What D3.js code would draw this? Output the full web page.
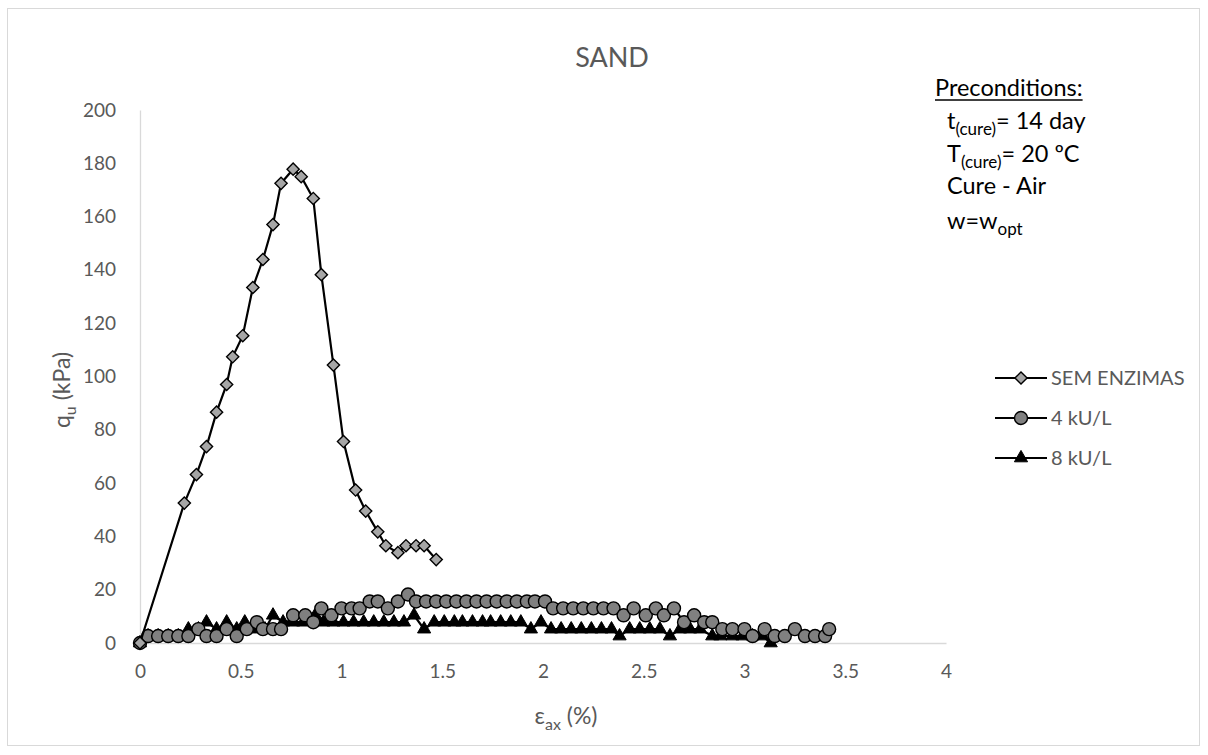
<!DOCTYPE html>
<html>
<head>
<meta charset="utf-8">
<script src="https://cdn.jsdelivr.net/npm/d3@7"></script>
<style>
body { margin: 0; background: #fff; }
text { font-family: Lato, "Open Sans", sans-serif; }
</style>
</head>
<body>
<svg id="chart"></svg>
<script>
const width = 1208;
const height = 755;

// strain (%) and qu (kPa)
const semX = [0,0.22,0.28,0.33,0.38,0.43,0.46,0.51,0.56,0.61,0.66,0.70,0.76,0.80,0.86,0.90,0.96,1.01,1.07,1.12,1.18,1.22,1.28,1.32,1.37,1.41,1.47];
const semY = [0,52.5,63.2,73.7,86.6,97,107.4,115.3,133.4,143.9,157,172.5,177.8,175,166.8,138.2,104.3,75.6,57.4,49.5,41.7,36.5,33.9,36.5,36.5,36.5,31.3];

const k4X = [0,0.04,0.09,0.14,0.19,0.24,0.29,0.33,0.38,0.43,0.48,0.53,0.58,0.61,0.66,0.70,0.76,0.82,0.86,0.90,0.95,1.0,1.05,1.09,1.14,1.18,1.23,1.28,1.33,1.37,1.42,1.47,1.52,1.57,1.62,1.67,1.72,1.77,1.82,1.87,1.92,1.96,2.01,2.05,2.10,2.15,2.20,2.25,2.30,2.35,2.40,2.45,2.51,2.56,2.60,2.65,2.70,2.75,2.80,2.84,2.89,2.94,3.0,3.04,3.10,3.15,3.20,3.25,3.30,3.35,3.40,3.42];
const k4Y = [0,2.6,2.6,2.6,2.6,2.6,5.2,2.6,2.6,5.2,2.6,5.2,7.8,5.2,5.2,5.2,10.4,10.4,7.8,13,10.4,13,13,13,15.6,15.6,13,15.6,18.2,15.6,15.6,15.6,15.6,15.6,15.6,15.6,15.6,15.6,15.6,15.6,15.6,15.6,15.6,13,13,13,13,13,13,13,10.4,13,10.4,13,10.4,13,7.8,10.4,7.8,7.8,5.2,5.2,5.2,2.6,5.2,2.6,2.6,5.2,2.6,2.6,2.6,5.2];

const k8X = [0,0.04,0.09,0.14,0.19,0.24,0.29,0.33,0.38,0.43,0.48,0.52,0.57,0.62,0.66,0.71,0.76,0.81,0.87,0.91,0.96,1.01,1.06,1.11,1.16,1.21,1.26,1.31,1.36,1.41,1.46,1.51,1.56,1.60,1.65,1.70,1.74,1.79,1.84,1.89,1.94,1.99,2.04,2.09,2.14,2.19,2.24,2.29,2.34,2.38,2.43,2.48,2.53,2.58,2.63,2.68,2.73,2.78,2.84,2.88,2.94,2.99,3.04,3.09,3.13];
const k8Y = [0,2.6,2.6,2.6,2.6,5.2,5.2,7.8,5.2,7.8,5.2,7.8,5.2,5.2,10.4,7.8,7.8,7.8,10.4,7.8,7.8,7.8,7.8,7.8,7.8,7.8,7.8,7.8,10.4,5.2,7.8,7.8,7.8,7.8,7.8,7.8,7.8,7.8,7.8,7.8,5.2,7.8,5.2,5.2,5.2,5.2,5.2,5.2,5.2,2.6,5.2,5.2,5.2,5.2,2.6,5.2,5.2,5.2,2.6,2.6,2.6,2.6,2.6,2.6,0];

const seriesNames = ['SEM ENZIMAS', '4 kU/L', '8 kU/L'];
const xTicks = [0,0.5,1,1.5,2,2.5,3,3.5,4];
const yTicks = [0,20,40,60,80,100,120,140,160,180,200];

const svg = d3.select('#chart').attr('width', width).attr('height', height);

svg.append('rect')
  .attr('x', 7.5).attr('y', 8.5)
  .attr('width', 1192).attr('height', 737)
  .attr('fill', '#fff').attr('stroke', '#d9d9d9');

const x = d3.scaleLinear().domain([0, 4]).range([140, 946]);
const y = d3.scaleLinear().domain([0, 200]).range([643, 110]);

const grey = '#595959';

// axes
const xAxis = svg.append('g')
  .attr('transform', `translate(0,${y(0)})`)
  .call(d3.axisBottom(x).tickValues(xTicks).tickSize(0).tickPadding(22).tickFormat(d3.format('')));
const yAxis = svg.append('g')
  .attr('transform', `translate(${x(0)},0)`)
  .call(d3.axisLeft(y).tickValues(yTicks).tickSize(0).tickPadding(24));
[xAxis, yAxis].forEach(a => {
  a.select('.domain').attr('stroke', '#d9d9d9').attr('stroke-width', 1.3);
  a.selectAll('text').attr('fill', grey).style('font-size', '19px').style('font-family', 'Lato, sans-serif');
});

svg.append('text')
  .attr('x', 612).attr('y', 67)
  .attr('text-anchor', 'middle')
  .attr('fill', grey).style('font-size', '27px')
  .text('SAND');

// axis titles
const xt = svg.append('text')
  .attr('x', 566).attr('y', 724)
  .attr('text-anchor', 'middle')
  .attr('fill', grey).style('font-size', '23px');
xt.append('tspan').text('ε');
xt.append('tspan').attr('dy', 6).style('font-size', '16px').text('ax');
xt.append('tspan').attr('dy', -6).text(' (%)');

const yt = svg.append('text')
  .attr('transform', 'translate(70,390) rotate(-90)')
  .attr('text-anchor', 'middle')
  .attr('fill', grey).style('font-size', '23px');
yt.append('tspan').text('q');
yt.append('tspan').attr('dy', 6).style('font-size', '16px').text('u');
yt.append('tspan').attr('dy', -6).text(' (kPa)');

// markers
const diamond = d3.symbol().type(d3.symbolDiamond2).size(95);
const tri = d3.symbol().type(d3.symbolTriangle).size(75);

const drawMarker = (g, kind) => {
  if (kind === 0) {
    g.append('path').attr('d', diamond()).attr('fill', '#a6a6a6').attr('stroke', '#000').attr('stroke-width', 1.4);
  } else if (kind === 1) {
    g.append('circle').attr('r', 6.5).attr('fill', '#808080').attr('stroke', '#000').attr('stroke-width', 1.4);
  } else {
    g.append('path').attr('d', tri()).attr('fill', '#000').attr('stroke', '#000').attr('stroke-width', 1);
  }
};

const line = d3.line().x(d => x(d[0])).y(d => y(d[1]));
const series = [
  d3.zip(semX, semY),
  d3.zip(k4X, k4Y),
  d3.zip(k8X, k8Y)
];

// draw in reverse so SEM ENZIMAS sits on top like the original
[2, 1, 0].forEach(i => {
  const data = series[i];
  svg.append('path').datum(data)
    .attr('d', line)
    .attr('fill', 'none').attr('stroke', '#000').attr('stroke-width', 2.2);
  svg.append('g').selectAll('g')
    .data(data).enter().append('g')
    .attr('transform', d => `translate(${x(d[0])},${y(d[1])})`)
    .each(function() { drawMarker(d3.select(this), i); });
});

// legend
const legend = svg.append('g');
seriesNames.forEach((name, i) => {
  const ly = 378 + i * 40;
  legend.append('line')
    .attr('x1', 995).attr('x2', 1047).attr('y1', ly).attr('y2', ly)
    .attr('stroke', '#000').attr('stroke-width', 2.2);
  const m = legend.append('g').attr('transform', `translate(1021,${ly})`);
  drawMarker(m, i);
  legend.append('text')
    .attr('x', 1051).attr('y', ly + 7)
    .attr('fill', grey).style('font-size', '20px')
    .text(name);
});

// preconditions box
const pre = svg.append('g').style('font-size', '23.5px').attr('fill', '#000');
const head = pre.append('text').attr('x', 935).attr('y', 96).text('Preconditions:');
const hw = head.node().getComputedTextLength();
pre.append('line').attr('x1', 935).attr('x2', 935 + hw).attr('y1', 100).attr('y2', 100)
  .attr('stroke', '#000').attr('stroke-width', 1.3);

const t1 = pre.append('text').attr('x', 947).attr('y', 129);
t1.append('tspan').text('t');
t1.append('tspan').attr('dy', 6).style('font-size', '17px').text('(cure)');
t1.append('tspan').attr('dy', -6).text('= 14 day');

const t2 = pre.append('text').attr('x', 947).attr('y', 162);
t2.append('tspan').text('T');
t2.append('tspan').attr('dy', 6).style('font-size', '17px').text('(cure)');
t2.append('tspan').attr('dy', -6).text('= 20 ºC');

pre.append('text').attr('x', 947).attr('y', 194).text('Cure - Air');

const t4 = pre.append('text').attr('x', 947).attr('y', 229);
t4.append('tspan').text('w=w');
t4.append('tspan').attr('dy', 6).style('font-size', '17px').text('opt');
</script>
</body>
</html>
